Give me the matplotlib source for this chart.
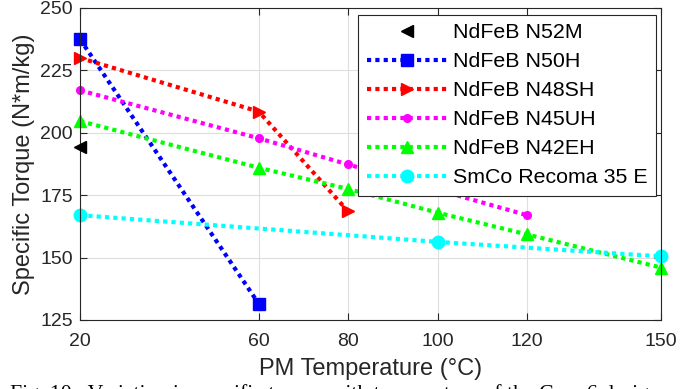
import matplotlib
matplotlib.use("Agg")
import matplotlib.pyplot as plt

plt.rcParams['font.family'] = ['Liberation Sans', 'DejaVu Sans']

n52m_x = [20]
n52m_y = [194.5]
n50h_x = [20, 60]
n50h_y = [237.5, 131.5]
n48sh_x = [20, 60, 80]
n48sh_y = [230, 208.5, 168.5]
n45uh_x = [20, 60, 80, 120]
n45uh_y = [217, 197.8, 187.3, 167]
n42eh_x = [20, 60, 80, 100, 120, 150]
n42eh_y = [204.7, 186, 177.5, 168, 159.3, 146]
smco_x = [20, 100, 150]
smco_y = [167, 156.3, 150.5]

xticks = [20, 60, 80, 100, 120, 150]
yticks = [125, 150, 175, 200, 225, 250]

fig = plt.figure(figsize=(6.99, 3.89), dpi=100)
ax = fig.add_axes([80/699, 1-320/389, (661-80)/699, (320-8)/389])

ls = (0, (1, 1))
lw = 3.0
kw = dict(clip_on=False)
ax.plot(n52m_x, n52m_y, linestyle='none', marker='<', color='black', ms=8, label='NdFeB N52M', zorder=5, **kw)
ax.plot(n50h_x, n50h_y, linestyle=ls, lw=lw, marker='s', color='#0000ff', ms=8.5, label='NdFeB N50H', **kw)
ax.plot(n48sh_x, n48sh_y, linestyle=ls, lw=lw, marker='>', color='#ff0000', ms=9, label='NdFeB N48SH', **kw)
ax.plot(n45uh_x, n45uh_y, linestyle=ls, lw=lw, marker='o', color='#ff00ff', ms=5.5, label='NdFeB N45UH', **kw)
ax.plot(n42eh_x, n42eh_y, linestyle=ls, lw=lw, marker='^', color='#00ff00', ms=9, label='NdFeB N42EH', **kw)
ax.plot(smco_x, smco_y, linestyle=ls, lw=lw, marker='o', color='#00ffff', ms=9, label='SmCo Recoma 35 E', **kw)

ax.set_xlim(20, 150)
ax.set_ylim(125, 250)
ax.set_xticks(xticks)
ax.set_yticks(yticks)
ax.grid(True, color='#dedede', lw=0.8)
ax.set_axisbelow(True)
ax.tick_params(direction='in', top=True, right=True, length=5, labelsize=14, colors='#262626', width=0.8)
ax.tick_params(axis='x', pad=9)
ax.tick_params(axis='y', pad=5)
for s in ax.spines.values():
    s.set_color('#262626')
    s.set_linewidth(0.8)
ax.set_xlabel('PM Temperature (°C)', fontsize=17, color='#262626', labelpad=6)
ax.set_ylabel('Specific Torque (N*m/kg)', fontsize=17, color='#262626', labelpad=4)

leg = ax.legend(loc='upper right', bbox_to_anchor=(656/699, 1-15/389), bbox_transform=fig.transFigure,
                fontsize=15.4, frameon=True, fancybox=False, edgecolor='#262626', framealpha=1,
                handlelength=3.75, labelspacing=0.47, borderpad=0.38, handletextpad=0.3, borderaxespad=0)
leg.get_frame().set_linewidth(0.8)

fig.text(10/699, 1-384/389, 'Fig. 10.  Variation in specific torque with temperature of the Case 6 design',
         fontsize=15.7, family='Liberation Serif', va='top', ha='left')

fig.savefig('out.png', dpi=100)
